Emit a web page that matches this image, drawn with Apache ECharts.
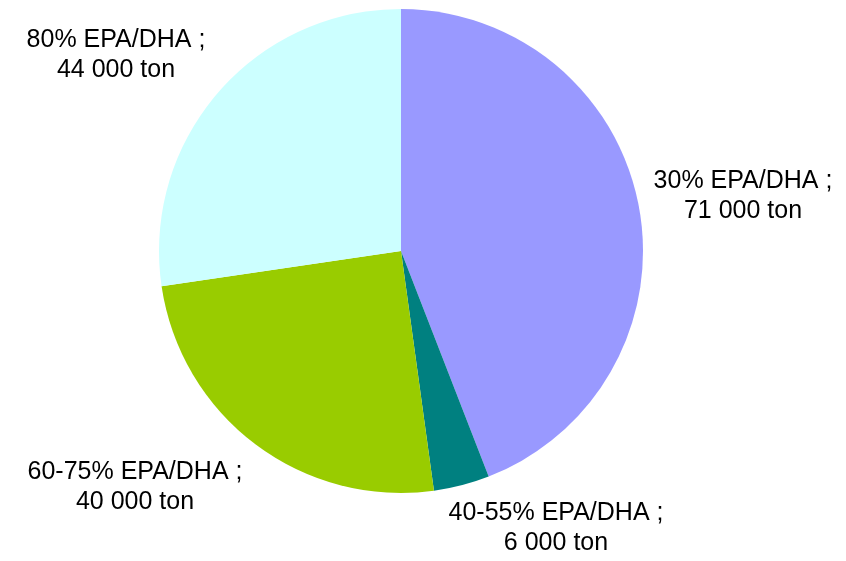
<!DOCTYPE html>
<html>
<head>
<meta charset="utf-8">
<script src="https://cdn.jsdelivr.net/npm/echarts@6/dist/echarts.min.js"></script>
<style>
html,body{margin:0;padding:0;background:#fff;}
#main{width:846px;height:561px;}
</style>
</head>
<body>
<div id="main"></div>
<script>
// data (tons)
let grades = ['30% EPA/DHA', '40-55% EPA/DHA', '60-75% EPA/DHA', '80% EPA/DHA'];
let tons = [71000, 6000, 40000, 44000];
let tonLabels = ['71 000', '6 000', '40 000', '44 000'];
let sliceColors = ['#9999FF', '#008080', '#99CC00', '#CCFFFF'];

// where each label block sits (centre of the two lines)
let labelSpots = [[743, 196], [556, 528], [135, 487], [116, 55]];

let pieData = [];
for (let i = 0; i < grades.length; i++) {
    pieData.push({
        name: grades[i],
        value: tons[i],
        itemStyle: {color: sliceColors[i]}
    });
}

let myChart = echarts.init(document.getElementById('main'));
let option = {
    animation: false,
    series: [{
        type: 'pie',
        center: [401, 251],
        radius: 242,
        startAngle: 90,
        clockwise: true,
        data: pieData,
        itemStyle: {borderWidth: 0},
        emphasis: {disabled: true},
        label: {
            show: true,
            position: 'outside',
            overflow: 'none',
            edgeDistance: 0,
            bleedMargin: 0,
            fontFamily: 'Liberation Sans, Arial, sans-serif',
            fontSize: 25,
            lineHeight: 30,
            color: '#000',
            align: 'center',
            formatter: function (p) {
                return p.name + ' ;\n' + tonLabels[p.dataIndex] + ' ton';
            }
        },
        labelLine: {show: false},
        labelLayout: function (params) {
            let s = labelSpots[params.dataIndex];
            return {x: s[0], y: s[1], align: 'center', verticalAlign: 'middle'};
        }
    }]
};
myChart.setOption(option);
</script>
</body>
</html>
